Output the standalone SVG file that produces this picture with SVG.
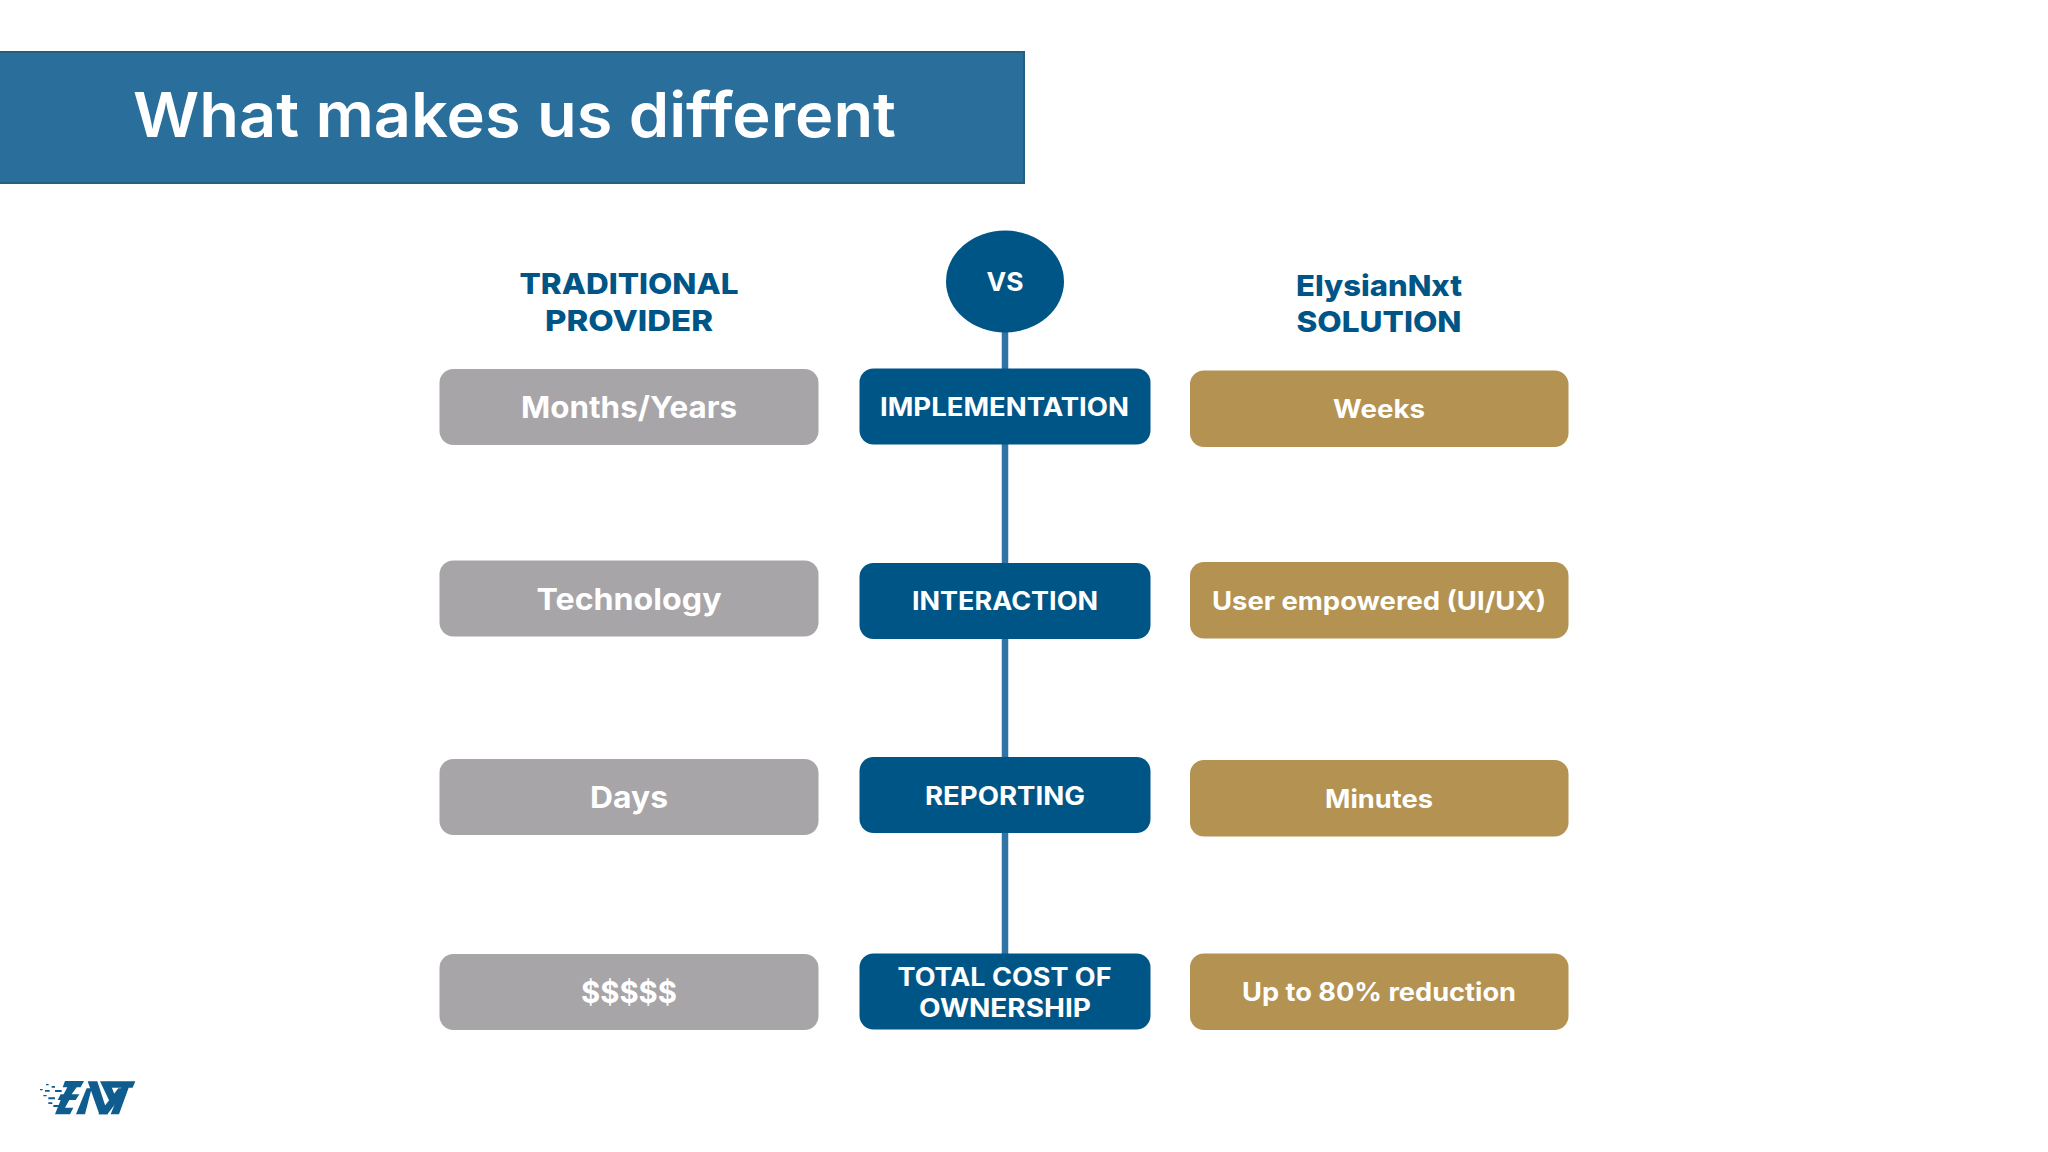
<svg xmlns="http://www.w3.org/2000/svg" width="2048" height="1152" viewBox="0 0 2048 1152">
<style>
text{font-family:"Inter","Open Sans","Liberation Sans",sans-serif;font-weight:700;text-anchor:middle;fill:#fff}
.h{fill:#005587;font-size:29px;font-weight:800}
.g{fill:#a7a5a8}.b{fill:#005587}.o{fill:#b39252}
.t30{font-size:30px}.t25{font-size:25px}
.c{stroke:#2f74a4;stroke-width:6.500;fill:none}
.l{fill:#0f5c8f}
</style>
<rect width="2048" height="1152" fill="#fff"/>
<g id="banner">
<rect x="-3" y="52" width="1027" height="131" fill="#2a6f9b" stroke="#245f82" stroke-width="2"/>
<text x="514.500" y="137" font-size="62" style="font-weight:600" textLength="763" lengthAdjust="spacingAndGlyphs">What makes us different</text>
</g>
<g id="connectors">
<line class="c" x1="1005" y1="325" x2="1005" y2="960"/>
</g>
<g id="header-traditional">
<text class="h" x="629" y="294" textLength="219" lengthAdjust="spacingAndGlyphs">TRADITIONAL</text>
<text class="h" x="629" y="331" textLength="168" lengthAdjust="spacingAndGlyphs">PROVIDER</text>
</g>
<g id="header-elysian">
<text class="h" x="1379" y="296" textLength="166" lengthAdjust="spacingAndGlyphs">ElysianNxt</text>
<text class="h" x="1379" y="332" textLength="165" lengthAdjust="spacingAndGlyphs">SOLUTION</text>
</g>
<g id="vs">
<ellipse class="b" cx="1005" cy="281.500" rx="59" ry="51"/>
<text class="t25" x="1005" y="291" textLength="37" lengthAdjust="spacingAndGlyphs">VS</text>
</g>
<g id="trad-1"><rect class="g" x="439.500" y="369" width="379" height="76" rx="14"/><text class="t30" x="629" y="418" textLength="216" lengthAdjust="spacingAndGlyphs">Months/Years</text></g>
<g id="trad-2"><rect class="g" x="439.500" y="560.500" width="379" height="76" rx="14"/><text class="t30" x="629" y="609.500" textLength="185" lengthAdjust="spacingAndGlyphs">Technology</text></g>
<g id="trad-3"><rect class="g" x="439.500" y="759" width="379" height="76" rx="14"/><text class="t30" x="629" y="807.500" textLength="78" lengthAdjust="spacingAndGlyphs">Days</text></g>
<g id="trad-4"><rect class="g" x="439.500" y="954" width="379" height="76" rx="14"/><text class="t30" x="629" y="1003" textLength="96" lengthAdjust="spacingAndGlyphs">$$$$$</text></g>
<g id="mid-1"><rect class="b" x="859.500" y="368.500" width="291" height="76" rx="14"/><text class="t25" x="1004.500" y="416" textLength="249" lengthAdjust="spacingAndGlyphs">IMPLEMENTATION</text></g>
<g id="mid-2"><rect class="b" x="859.500" y="563" width="291" height="76" rx="14"/><text class="t25" x="1005" y="610" textLength="186" lengthAdjust="spacingAndGlyphs">INTERACTION</text></g>
<g id="mid-3"><rect class="b" x="859.500" y="757" width="291" height="76" rx="14"/><text class="t25" x="1005" y="804.500" textLength="160" lengthAdjust="spacingAndGlyphs">REPORTING</text></g>
<g id="mid-4"><rect class="b" x="859.500" y="953.500" width="291" height="76" rx="14"/><text class="t25" x="1004.500" y="986" textLength="214" lengthAdjust="spacingAndGlyphs">TOTAL COST OF</text><text class="t25" x="1005" y="1016.500" textLength="172" lengthAdjust="spacingAndGlyphs">OWNERSHIP</text></g>
<g id="sol-1"><rect class="o" x="1190" y="370.500" width="378.500" height="76.500" rx="14"/><text class="t25" x="1379" y="418" textLength="92" lengthAdjust="spacingAndGlyphs">Weeks</text></g>
<g id="sol-2"><rect class="o" x="1190" y="562" width="378.500" height="76.500" rx="14"/><text class="t25" x="1379" y="610" textLength="334" lengthAdjust="spacingAndGlyphs">User empowered (UI/UX)</text></g>
<g id="sol-3"><rect class="o" x="1190" y="760" width="378.500" height="76.500" rx="14"/><text class="t25" x="1379" y="808" textLength="108" lengthAdjust="spacingAndGlyphs">Minutes</text></g>
<g id="sol-4"><rect class="o" x="1190" y="953.500" width="378.500" height="76.500" rx="14"/><text class="t25" x="1379" y="1001" textLength="274" lengthAdjust="spacingAndGlyphs">Up to 80% reduction</text></g>
<g id="logo" class="l" transform="translate(20 1060) scale(.3333)">
<path d="M135 63H192L182 82H170L155 103H178L167 120H148L135 143H160L150 163H105L122 120H113L122 103H131L142 82H128Z"/>
<path d="M168 163L200 85H215L195 163Z"/>
<path d="M203 64H232L264 163H238Z"/>
<path d="M235 163H262L322 85H295Z"/>
<path d="M240 64H268L290 120L275 137Z"/>
<path d="M265 64H346L338 83H326L297 163H272L304 83H265Z"/>
<path d="M78 72h8v4h-8zM95 78h10v5H95zM60 87h8v4h-8zM75 90h14v5H75zM105 90h20v6h-20zM70 105h10v4H70zM85 112h20v6H85zM85 127h12v5H85zM100 135h20v6h-20z"/>
</g>
</svg>
